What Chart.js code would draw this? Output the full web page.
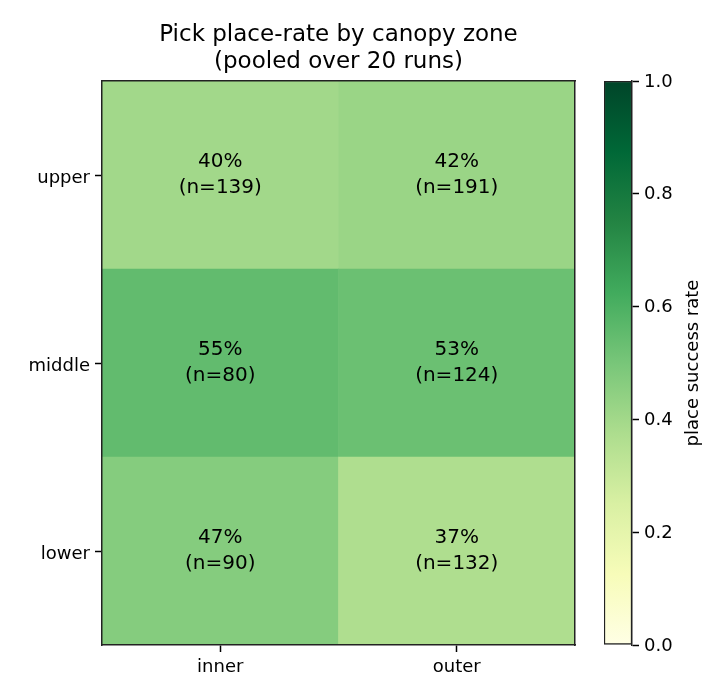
<!DOCTYPE html>
<html>
<head>
<meta charset="utf-8">
<script src="https://cdn.jsdelivr.net/npm/chart.js@4"></script>
<style>
  html, body { margin: 0; padding: 0; background: #fff; }
  #wrap { position: relative; width: 728px; height: 700px; }
  #wrap canvas { position: absolute; left: 0; top: 0; }
</style>
</head>
<body>
<div id="wrap">
  <canvas id="heat" width="728" height="700"></canvas>
  <canvas id="cbar" width="728" height="700"></canvas>
</div>
<script>
// --- Data ---
const positions = ['inner', 'outer'];
const zones = ['lower', 'middle', 'upper'];      // bottom to top
const rateLower = [0.47, 0.37];
const rateMiddle = [0.55, 0.53];
const rateUpper = [0.40, 0.42];
const countLower = [90, 132];
const countMiddle = [80, 124];
const countUpper = [139, 191];
const cbarTicks = [0, 0.2, 0.4, 0.6, 0.8, 1.0];

const rates = [rateLower, rateMiddle, rateUpper];
const counts = [countLower, countMiddle, countUpper];

// --- YlGn colormap ---
const YLGN = ['#ffffe5', '#f7fcb9', '#d9f0a3', '#addd8e', '#78c679',
              '#41ab5d', '#238443', '#006837', '#004529'];
function hexRgb(h) {
  return [1, 3, 5].map(i => parseInt(h.slice(i, i + 2), 16));
}
function ylgn(v) {
  v = Math.min(1, Math.max(0, v));
  const p = v * (YLGN.length - 1);
  const i = Math.min(YLGN.length - 2, Math.floor(p));
  const t = p - i;
  const a = hexRgb(YLGN[i]), b = hexRgb(YLGN[i + 1]);
  const c = a.map((x, k) => Math.round(x + (b[k] - x) * t));
  return `rgb(${c[0]},${c[1]},${c[2]})`;
}

const FONT = "'DejaVu Sans', sans-serif";
const INK = '#000';
const SPINE = '#222';
const spine = { display: true, color: SPINE, width: 1.5, z: 1 };

// --- Heatmap ---
const cellLabels = {
  id: 'cellLabels',
  afterDatasetsDraw(chart) {
    const ctx = chart.ctx;
    ctx.save();
    ctx.font = `20px ${FONT}`;
    ctx.fillStyle = INK;
    ctx.textAlign = 'center';
    ctx.textBaseline = 'middle';
    chart.data.datasets.forEach((ds, r) => {
      chart.getDatasetMeta(r).data.forEach((bar, j) => {
        const cy = (bar.y + bar.base) / 2;
        ctx.fillText(Math.round(rates[r][j] * 100) + '%', bar.x, cy - 13);
        ctx.fillText('(n=' + counts[r][j] + ')', bar.x, cy + 13);
      });
    });
    ctx.restore();
  }
};

const dummyAxis = (type, position, extra) => Object.assign({
  type, position, display: true,
  grid: { display: false },
  ticks: { display: false },
  border: spine,
  afterFit: s => { if (s.isHorizontal()) s.height = 0; else s.width = 0; }
}, extra || {});

new Chart(document.getElementById('heat'), {
  type: 'bar',
  data: {
    labels: positions,
    datasets: zones.map((z, r) => ({
      label: z,
      data: positions.map(() => [r, r + 1]),
      backgroundColor: rates[r].map(ylgn),
      borderWidth: 0,
      grouped: false,
      barPercentage: 1,
      categoryPercentage: 1
    }))
  },
  options: {
    responsive: false,
    animation: false,
    devicePixelRatio: 1,
    layout: { padding: { left: 0, right: 153, top: 0, bottom: 0 } },
    plugins: {
      legend: { display: false },
      tooltip: { enabled: false },
      title: {
        display: true,
        fullSize: false,
        text: ['Pick place-rate by canopy zone', '(pooled over 20 runs)'],
        color: INK,
        font: { family: FONT, size: 23, weight: 'normal', lineHeight: 27 / 23 },
        padding: { top: 22, bottom: 5 }
      }
    },
    scales: {
      x: {
        type: 'category',
        position: 'bottom',
        grid: { offset: false, drawOnChartArea: false, tickLength: 7, color: INK, tickWidth: 1.5 },
        border: spine,
        ticks: { color: INK, padding: 5, font: { family: FONT, size: 18 } },
        afterFit: s => { s.height = 55; }
      },
      y: {
        type: 'linear',
        position: 'left',
        min: 0,
        max: zones.length,
        afterBuildTicks: s => { s.ticks = zones.map((z, r) => ({ value: r + 0.5 })); },
        grid: { drawOnChartArea: false, tickLength: 7, color: INK, tickWidth: 1.5 },
        border: spine,
        ticks: {
          color: INK, padding: 5, labelOffset: 3, font: { family: FONT, size: 18 },
          callback: v => zones[Math.floor(v)]
        },
        afterFit: s => { s.width = 102; }
      },
      xTop: dummyAxis('category', 'top'),
      yRight: dummyAxis('linear', 'right', { min: 0, max: zones.length })
    }
  },
  plugins: [cellLabels]
});

// --- Colorbar ---
const cbarLabel = {
  id: 'cbarLabel',
  afterDraw(chart) {
    const { ctx, chartArea } = chart;
    ctx.save();
    ctx.translate(chartArea.right + 61, (chartArea.top + chartArea.bottom) / 2);
    ctx.rotate(-Math.PI / 2);
    ctx.font = `18px ${FONT}`;
    ctx.fillStyle = INK;
    ctx.textAlign = 'center';
    ctx.textBaseline = 'middle';
    ctx.fillText('place success rate', 0, 0);
    ctx.restore();
  }
};

new Chart(document.getElementById('cbar'), {
  type: 'bar',
  data: {
    labels: [''],
    datasets: [{
      data: [[cbarTicks[0], cbarTicks[cbarTicks.length - 1]]],
      backgroundColor: ctx => {
        const chart = ctx.chart;
        if (!chart.chartArea) return null;
        const y = chart.scales.y;
        const g = chart.ctx.createLinearGradient(0, y.getPixelForValue(0), 0, y.getPixelForValue(1));
        YLGN.forEach((c, i) => g.addColorStop(i / (YLGN.length - 1), c));
        return g;
      },
      borderColor: SPINE,
      borderWidth: 1.5,
      borderSkipped: false,
      barPercentage: 1,
      categoryPercentage: 1
    }]
  },
  options: {
    responsive: false,
    animation: false,
    devicePixelRatio: 1,
    layout: { padding: { left: 604, right: 0, top: 81, bottom: 55 } },
    plugins: { legend: { display: false }, tooltip: { enabled: false }, title: { display: false } },
    scales: {
      x: { display: false },
      y: {
        type: 'linear',
        position: 'right',
        min: 0,
        max: 1,
        afterBuildTicks: s => { s.ticks = cbarTicks.map(v => ({ value: v })); },
        grid: { drawOnChartArea: false, tickLength: 7, color: INK, tickWidth: 1.5 },
        border: spine,
        ticks: { color: INK, padding: 5, labelOffset: 1, font: { family: FONT, size: 18 }, callback: v => Number(v).toFixed(1) },
        afterFit: s => { s.width = 96; }
      }
    }
  },
  plugins: [cbarLabel]
});
</script>
</body>
</html>
